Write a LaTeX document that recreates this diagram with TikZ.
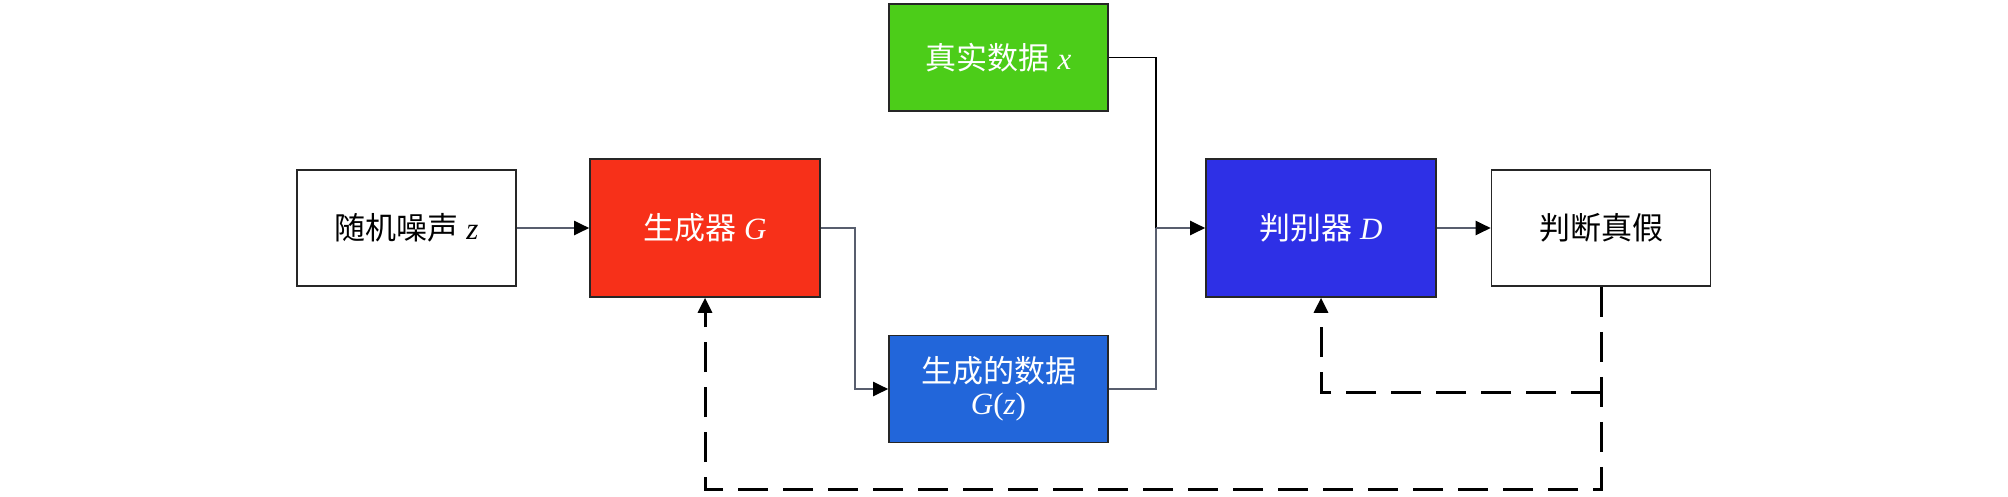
\documentclass[tikz,border=0pt]{standalone}
\usepackage{fontspec}
\setmainfont{Liberation Serif}
\newfontfamily\cjk{Noto Sans CJK SC}
\usetikzlibrary{arrows.meta}
\definecolor{cred}{RGB}{247,48,25}
\definecolor{cgreen}{RGB}{76,205,25}
\definecolor{cgblue}{RGB}{34,102,218}
\definecolor{cdblue}{RGB}{46,48,230}
\definecolor{cline}{RGB}{88,94,110}
\begin{document}
\begin{tikzpicture}[x=1pt,y=-1pt,
  every node/.style={font=\fontsize{31pt}{38pt}\selectfont},
  box/.style={draw=black!85,line width=1.6pt,inner sep=0pt,align=center},
  wbox/.style={box,fill=white,text=black,minimum width=219pt,minimum height=116pt},
  bigbox/.style={box,text=white,minimum width=230pt,minimum height=138pt},
  midbox/.style={box,text=white,minimum width=219pt,minimum height=107pt},
  tip/.style={-{Triangle[length=15pt,width=14pt,color=black]}},
  conn/.style={draw=cline,line width=2pt},
  fb/.style={draw=black,line width=3pt,dash pattern=on 30pt off 15pt}]
\useasboundingbox (0,0) rectangle (2008,496);
\node[wbox] (noise) at (406.5,228) {{\cjk 随机噪声} \textit{z}};
\node[bigbox,fill=cred] (gen) at (705,228) {{\cjk 生成器} \textit{G}};
\node[midbox,fill=cgreen] (real) at (998.5,57.5) {{\cjk 真实数据} \textit{x}};
\node[midbox,fill=cgblue] (gdata) at (998.5,389) {{\cjk 生成的数据}\\[-6pt]\textit{G}(\textit{z})};
\node[bigbox,fill=cdblue] (disc) at (1321,228) {{\cjk 判别器} \textit{D}};
\node[wbox] (judge) at (1601,228) {{\cjk 判断真假}};
\coordinate (j) at (1156,228);
\coordinate (gbend) at (855,228);
\coordinate (fbin) at (1601,392);
\coordinate (fbout) at (1601,489);
% solid connectors
\draw[conn,tip] (noise.east) -- (gen.west);
\draw[conn,tip] (gen.east) -- (gbend) |- (gdata.west);
\draw[black,line width=1.6pt] (real.east) -| (j);
\draw[conn] (gdata.east) -| (j);
\draw[conn,tip] (j) -- (disc.west);
\draw[conn,tip] (disc.east) -- (judge.west);
% feedback
\draw[fb,tip] (judge.south) -- (fbout) -| (gen.south);
\draw[fb,tip] (fbin) -| (disc.south);
\end{tikzpicture}
\end{document}
